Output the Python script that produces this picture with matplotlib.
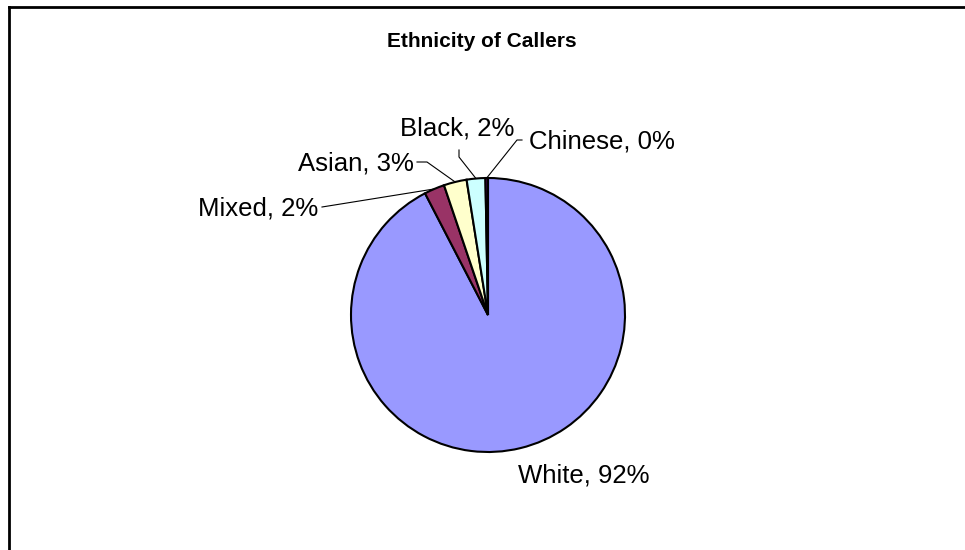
import numpy as np
import matplotlib
matplotlib.use('Agg')
import matplotlib.pyplot as plt
from matplotlib.lines import Line2D

plt.rcParams['font.family'] = ['Liberation Sans', 'DejaVu Sans']

# caller ethnicity shares (percent)
groups = ['White', 'Mixed', 'Asian', 'Black', 'Chinese']
shares = [92.4, 2.4, 2.7, 2.2, 0.3]
colors = ['#9999FF', '#993366', '#FFFFCC', '#CCFFFF', '#660066']

W, H = 965, 550
cx, cy, r = 488, 315, 137   # pie centre / radius in pixels


def px(x, y):
    # pixel position -> data units (pie radius = 1)
    return (x - cx) / r, (cy - y) / r


fig = plt.figure(figsize=(W / 100, H / 100), dpi=100)
ax = fig.add_axes([0, 0, 1, 1])

wedges, _ = ax.pie(shares, colors=colors, startangle=90, counterclock=False,
                   radius=1, center=(0, 0),
                   wedgeprops=dict(edgecolor='black', linewidth=1.5))
ax.set_xlim(-cx / r, (W - cx) / r)
ax.set_ylim(-(H - cy) / r, cy / r)
ax.set_aspect('equal')
ax.axis('off')

# label text position (left, baseline) and leader path start points
label_pos = {
    'White':   ((518, 483), 'left', None),
    'Mixed':   ((318, 215), 'right', [(322, 207)]),
    'Asian':   ((414, 170), 'right', [(417, 162), (427, 162)]),
    'Black':   ((400, 135), 'left', [(459, 150), (459, 157)]),
    'Chinese': ((529, 148), 'left', [(522, 140), (517, 140)]),
}

for name, val, w in zip(groups, shares, wedges):
    (tx, ty), ha, path = label_pos[name]
    x, y = px(tx, ty)
    ax.text(x, y, f'{name}, {round(val):.0f}%', ha=ha, va='baseline',
            fontsize=18.5, color='black')
    if path:
        mid = np.deg2rad((w.theta1 + w.theta2) / 2)
        pts = [px(*p) for p in path] + [(np.cos(mid), np.sin(mid))]
        xs, ys = zip(*pts)
        ax.plot(xs, ys, color='black', lw=0.8)

fig.text(482 / W, 1 - 47 / H, 'Ethnicity of Callers', ha='center',
         va='baseline', fontsize=15, fontweight='bold')

# chart area frame (left and top edges)
fig.add_artist(Line2D([8.5 / W, 8.5 / W], [0, 1 - 7 / H], color='black',
                      lw=2, transform=fig.transFigure))
fig.add_artist(Line2D([8.5 / W, 1], [1 - 7 / H, 1 - 7 / H], color='black',
                      lw=2, transform=fig.transFigure))

fig.savefig('out.png', dpi=100)
